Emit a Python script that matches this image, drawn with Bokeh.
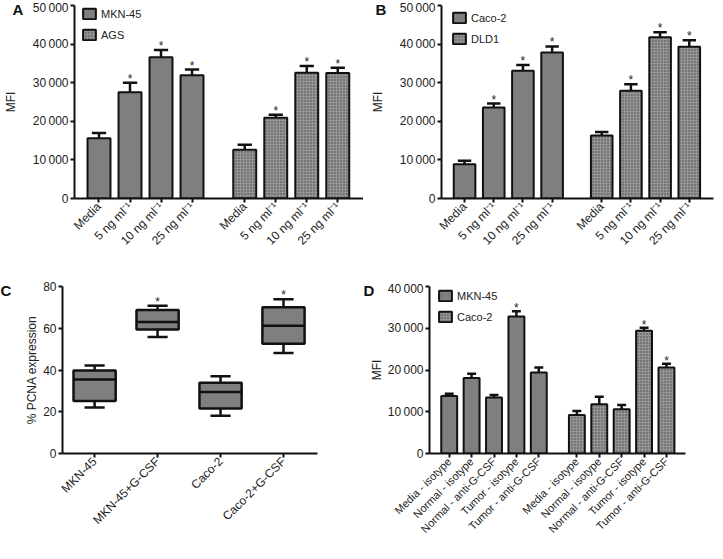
import math
from bokeh.plotting import figure
from bokeh.models import Range1d, FixedTicker, Legend, LegendItem
from bokeh.layouts import column, row
from bokeh.embed import file_html
from bokeh.resources import INLINE
from bokeh.core.properties import value

FONT = "Liberation Sans"
GRAY = "#7f7f7f"

# ---------------- data ----------------
# Panel A
a_labels = ["Media", "5 ng ml\u207b\u00b9", "10 ng ml\u207b\u00b9", "25 ng ml\u207b\u00b9"]
a_series = ["MKN-45", "AGS"]
a_mkn45 = [15600, 27500, 36600, 31900]
a_mkn45_err = [1400, 2500, 1900, 1500]
a_mkn45_sig = [False, True, True, True]
a_ags = [12600, 20900, 32600, 32500]
a_ags_err = [1300, 800, 1700, 1400]
a_ags_sig = [False, True, True, True]

# Panel B
b_labels = ["Media", "5 ng ml\u207b\u00b9", "10 ng ml\u207b\u00b9", "25 ng ml\u207b\u00b9"]
b_series = ["Caco-2", "DLD1"]
b_caco2 = [8900, 23600, 33100, 37800]
b_caco2_err = [900, 1000, 1500, 1600]
b_caco2_sig = [False, True, True, True]
b_dld1 = [16300, 27900, 41800, 39300]
b_dld1_err = [900, 1700, 1300, 1700]
b_dld1_sig = [False, True, True, True]

# Panel C (box plot)
c_groups = ["MKN-45", "MKN-45+G-CSF", "Caco-2", "Caco-2+G-CSF"]
c_low = [22.0, 55.8, 18.1, 48.1]
c_q1 = [25.2, 59.4, 21.6, 52.6]
c_med = [35.5, 63.0, 29.5, 61.2]
c_q3 = [39.8, 68.8, 33.9, 70.1]
c_high = [42.1, 70.8, 37.0, 73.9]
c_sig = [False, True, False, True]

# Panel D
d_labels = ["Media - isotype", "Normal - isotype", "Normal - anti-G-CSF",
            "Tumor - isotype", "Tumor - anti-G-CSF"]
d_series = ["MKN-45", "Caco-2"]
d_mkn45 = [13800, 18100, 13400, 32800, 19400]
d_mkn45_err = [500, 1000, 600, 1300, 1200]
d_mkn45_sig = [False, False, False, True, False]
d_caco2 = [9200, 11800, 10600, 29400, 20600]
d_caco2_err = [1000, 1800, 1000, 700, 900]
d_caco2_sig = [False, False, False, True, True]

MFI_TICKS_50 = [0, 10000, 20000, 30000, 40000, 50000]
MFI_TICKS_40 = [0, 10000, 20000, 30000, 40000]
PCNA_TICKS = [0, 20, 40, 60, 80]


def fmt_thousands(v):
    return "0" if v == 0 else f"{v // 1000}\u2009000"


class Geo:
    def __init__(self, left, fw, right, top, fh, bottom, xr, yr):
        self.left, self.fw, self.right = left, fw, right
        self.top, self.fh, self.bottom = top, fh, bottom
        self.xr, self.yr = xr, yr

    def dy(self):
        return (self.yr[1] - self.yr[0]) / self.fh


def base_fig(g, let, let_offset, xlab_size="12px"):
    p = figure(frame_width=g.fw, frame_height=g.fh, x_range=Range1d(*g.xr),
               y_range=Range1d(*g.yr), output_backend="svg", toolbar_location=None,
               min_border_left=g.left, min_border_right=g.right,
               min_border_top=g.top, min_border_bottom=g.bottom)
    # panel letter, as the plot title pulled to the top-left corner
    p.title.text = let
    p.title.align = "left"
    p.title.offset = let_offset
    p.title.vertical_align = "bottom"
    p.title.standoff = -24
    p.title.text_font = FONT
    p.title.text_font_size = "15px"
    p.title.text_font_style = "bold"
    p.title.text_color = "#111111"
    p.xgrid.visible = False
    p.ygrid.visible = False
    p.outline_line_color = None
    for ax in (p.xaxis[0], p.yaxis[0]):
        ax.axis_line_width = 2
        ax.axis_line_color = "#111111"
        ax.major_tick_line_width = 2
        ax.major_tick_line_color = "#111111"
        ax.major_tick_in = 0
        ax.major_tick_out = 4
        ax.minor_tick_line_color = None
        ax.major_label_text_font = FONT
        ax.major_label_text_font_size = "12px"
        ax.major_label_text_color = "#222222"
        ax.axis_label_text_font = FONT
        ax.axis_label_text_font_size = "12px"
        ax.axis_label_text_font_style = "normal"
        ax.axis_label_text_color = "#222222"
    p.xaxis.major_label_text_font_size = xlab_size
    p.yaxis.major_label_standoff = 2
    p.xaxis.major_label_standoff = 2
    p.xaxis.major_label_orientation = math.pi / 4
    return p


def bar_panel(g, labels, series, v1, e1, s1, v2, e2, s2, yticks, let, bw, cap,
              legend_xy, let_offset, star_px, ylabel_standoff, xlab_size="12px"):
    n = len(labels)
    gap = 1.7
    x1 = [round(1 + i, 2) for i in range(n)]
    x2 = [round(n + gap + i, 2) for i in range(n)]
    p = base_fig(g, let, let_offset, xlab_size)
    py = g.dy()

    r1 = p.vbar(x=x1, top=v1, width=bw, bottom=0, fill_color=GRAY, line_color="#111111",
                line_width=2)
    r2 = p.vbar(x=x2, top=v2, width=bw, bottom=0, fill_color="#959595", line_color="#111111",
                line_width=2, hatch_pattern="dot", hatch_color="#444444", hatch_scale=3,
                hatch_weight=1.2)
    for xs, vs, es, ss in ((x1, v1, e1, s1), (x2, v2, e2, s2)):
        tops = [v + e for v, e in zip(vs, es)]
        p.segment(x0=xs, y0=vs, x1=xs, y1=tops, line_color="#111111", line_width=2.5)
        p.segment(x0=[x - cap for x in xs], y0=tops, x1=[x + cap for x in xs], y1=tops,
                  line_color="#111111", line_width=2.5)
        sx = [x for x, s in zip(xs, ss) if s]
        sy = [t + star_px * py for t, s in zip(tops, ss) if s]
        p.text(x=sx, y=sy, text=["*"] * len(sx), text_font=value(FONT),
               text_font_size="12px", text_align="center", text_baseline="alphabetic",
               text_color="#222222")

    p.xaxis.ticker = FixedTicker(ticks=x1 + x2)
    p.xaxis.major_label_overrides = {x: lab for x, lab in zip(x1 + x2, labels + labels)}
    p.yaxis.ticker = FixedTicker(ticks=yticks)
    p.yaxis.major_label_overrides = {t: fmt_thousands(t) for t in yticks}
    p.yaxis.axis_label = "MFI"
    p.yaxis.axis_label_standoff = ylabel_standoff

    lx, ltop = legend_xy
    leg_h = 40
    leg = Legend(items=[LegendItem(label=series[0], renderers=[r1]),
                        LegendItem(label=series[1], renderers=[r2])],
                 location=(lx, g.fh - leg_h - ltop), orientation="vertical",
                 glyph_width=16, glyph_height=13,
                 label_text_font=FONT, label_text_font_size="11px", label_text_color="#222222",
                 label_standoff=4, spacing=8, padding=0, margin=0, border_line_color=None,
                 background_fill_alpha=0, label_height=13)
    p.add_layout(leg)
    return p


# geometry: left border, frame width, right border, top border, frame height, bottom border
gA = Geo(62, 289, 0, 5, 193, 83, (0.21, 9.53), (0, 50000))
gB = Geo(78, 272, 2, 5, 193, 83, (0.21, 9.53), (0, 50000))
gC = Geo(62, 255, 34, 5, 167, 90, (0.49, 4.54), (0, 80))
gD = Geo(78, 256, 18, 5, 167, 90, (0.12, 11.55), (0, 40000))

pA = bar_panel(gA, a_labels, a_series, a_mkn45, a_mkn45_err, a_mkn45_sig, a_ags, a_ags_err,
               a_ags_sig, MFI_TICKS_50, "A", 0.74, 0.23, (7, -4), -62, 4, 12)
pB = bar_panel(gB, b_labels, b_series, b_caco2, b_caco2_err, b_caco2_sig, b_dld1, b_dld1_err,
               b_dld1_sig, MFI_TICKS_50, "B", 0.74, 0.23, (10, 0), -66, 4, 12)
pD = bar_panel(gD, d_labels, d_series, d_mkn45, d_mkn45_err, d_mkn45_sig, d_caco2, d_caco2_err,
               d_caco2_sig, MFI_TICKS_40, "D", 0.71, 0.2, (8, -3), -66, 3, 1,
               xlab_size="11px")

# ---------------- panel C ----------------
pC = base_fig(gC, "C", -62)
cx = [1 + i for i in range(len(c_groups))]
box_w = 0.67
cap_c = 0.16
pC.segment(x0=cx, y0=c_q3, x1=cx, y1=c_high, line_color="#111111", line_width=2.5)
pC.segment(x0=cx, y0=c_low, x1=cx, y1=c_q1, line_color="#111111", line_width=2.5)
pC.segment(x0=[x - cap_c for x in cx], y0=c_high, x1=[x + cap_c for x in cx], y1=c_high,
           line_color="#111111", line_width=2.5)
pC.segment(x0=[x - cap_c for x in cx], y0=c_low, x1=[x + cap_c for x in cx], y1=c_low,
           line_color="#111111", line_width=2.5)
pC.vbar(x=cx, bottom=c_q1, top=c_q3, width=box_w, fill_color=GRAY, line_color="#111111",
        line_width=2.5)
pC.segment(x0=[x - box_w / 2 for x in cx], y0=c_med, x1=[x + box_w / 2 for x in cx], y1=c_med,
           line_color="#111111", line_width=2.5)
csx = [x for x, s in zip(cx, c_sig) if s]
csy = [h + 4 * gC.dy() for h, s in zip(c_high, c_sig) if s]
pC.text(x=csx, y=csy, text=["*"] * len(csx), text_font=value(FONT), text_font_size="12px",
        text_align="center", text_baseline="alphabetic", text_color="#222222")
pC.xaxis.ticker = FixedTicker(ticks=cx)
pC.xaxis.major_label_overrides = {x: g for x, g in zip(cx, c_groups)}
pC.yaxis.ticker = FixedTicker(ticks=PCNA_TICKS)
pC.yaxis.axis_label = "% PCNA expression"
pC.yaxis.axis_label_standoff = 1

layout = column(row(pA, pB), row(pC, pD))
open("out.html", "w").write(file_html(layout, INLINE))
